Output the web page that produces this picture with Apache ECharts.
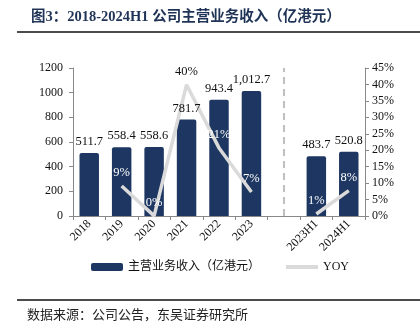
<!DOCTYPE html>
<html><head><meta charset="utf-8">
<script src="https://cdn.jsdelivr.net/npm/echarts@6/dist/echarts.min.js"></script>
<style>html,body{margin:0;padding:0;background:#fff}#c{width:420px;height:336px}</style>
</head><body><div id="c"></div>
<script>
const categories = ['2018','2019','2020','2021','2022','2023','','2023H1','2024H1'];
const revenue = [511.7, 558.4, 558.6, 781.7, 943.4, 1012.7, null, 483.7, 520.8];
const yoy = [null, 9.1, 0.04, 39.9, 20.7, 7.3, null, 0.6, 7.7];
const leftTicks = [0, 1200, 200];
const rightTicks = [0, 45, 5];
const titleText = '图3：2018-2024H1 公司主营业务收入（亿港元）';
const sourceText = '数据来源：公司公告，东吴证券研究所';
const barName = '主营业务收入（亿港元）';
const lineName = 'YOY';

const serif = '"Liberation Serif","Times New Roman","Noto Sans CJK SC",serif';
const navy = '#1d3762';
const grey = '#dadada';
const chart = echarts.init(document.getElementById('c'), null, {renderer:'canvas'});
const yoyData = yoy.map(v => v === null ? null : (v > 30 ? {value:v, label:{color:'#111'}} : v));
const fmtVal = p => p.value.toLocaleString('en-US',{minimumFractionDigits:1, maximumFractionDigits:1});
chart.setOption({
  animation:false,
  textStyle:{fontFamily:serif},
  title:{text:titleText, left:26, top:5, textStyle:{fontFamily:serif, fontSize:14.5, fontWeight:'bold', color:'#1f3356'}},
  graphic:[
    {type:'line', shape:{x1:17,y1:32,x2:420,y2:32}, style:{stroke:'#111', lineWidth:1.5}},
    {type:'line', shape:{x1:17,y1:300,x2:420,y2:300}, style:{stroke:'#111', lineWidth:1.5}},
    {type:'text', left:27, top:309, style:{text:sourceText, font:'13px '+serif, fill:'#222'}}
  ],
  legend:{left:86, top:256, itemGap:26, itemWidth:32, itemHeight:8,
    textStyle:{fontFamily:serif, fontSize:12, color:'#111'},
    data:[{name:barName, icon:'roundRect'},
          {name:lineName, icon:'path://M0,0H32V4H0Z', itemStyle:{color:grey}}]},
  grid:{left:73, right:55, top:68, bottom:120, containLabel:false},
  xAxis:{type:'category', data:categories,
    axisLine:{lineStyle:{color:'#888'}},
    axisTick:{show:true, interval:0, length:4, lineStyle:{color:'#888'}},
    axisLabel:{interval:0, rotate:45, fontSize:12, color:'#111', fontFamily:serif, margin:6}},
  yAxis:[
    {type:'value', min:leftTicks[0], max:leftTicks[1], interval:leftTicks[2],
     splitLine:{show:false}, axisLine:{show:true, lineStyle:{color:'#888'}},
     axisTick:{show:true, length:4, lineStyle:{color:'#888'}},
     axisLabel:{fontSize:12, color:'#111', fontFamily:serif, margin:10, formatter:v => String(v)}},
    {type:'value', min:rightTicks[0], max:rightTicks[1], interval:rightTicks[2],
     splitLine:{show:false}, axisLine:{show:true, lineStyle:{color:'#888'}},
     axisTick:{show:true, length:4, lineStyle:{color:'#888'}},
     axisLabel:{fontSize:12, color:'#111', fontFamily:serif, margin:7, formatter:'{value}%'}}
  ],
  series:[
    {name:barName, type:'bar', data:revenue, barWidth:'60%', z:2,
     itemStyle:{color:navy, borderRadius:[2,2,0,0]},
     markLine:{silent:true, symbol:'none', label:{show:false},
       lineStyle:{color:'#aaa', type:[7,5], width:1.5},
       data:[{xAxis:6}]}},
    {name:lineName, type:'line', yAxisIndex:1, data:yoyData, connectNulls:false, z:3,
     symbol:'circle', symbolSize:0.1,
     lineStyle:{color:grey, width:3.5}, itemStyle:{color:grey},
     label:{show:true, position:'top', distance:7, fontSize:12.5, color:'#fff', fontFamily:serif,
       formatter:p => Math.round(p.value) + '%'}},
    {name:'barLabels', type:'bar', data:revenue, barWidth:'60%', barGap:'-100%', z:4, silent:true,
     itemStyle:{color:'rgba(0,0,0,0)'},
     label:{show:true, position:'top', distance:5, fontSize:12.5, color:'#111', fontFamily:serif, formatter:fmtVal}}
  ]
});
</script></body></html>
